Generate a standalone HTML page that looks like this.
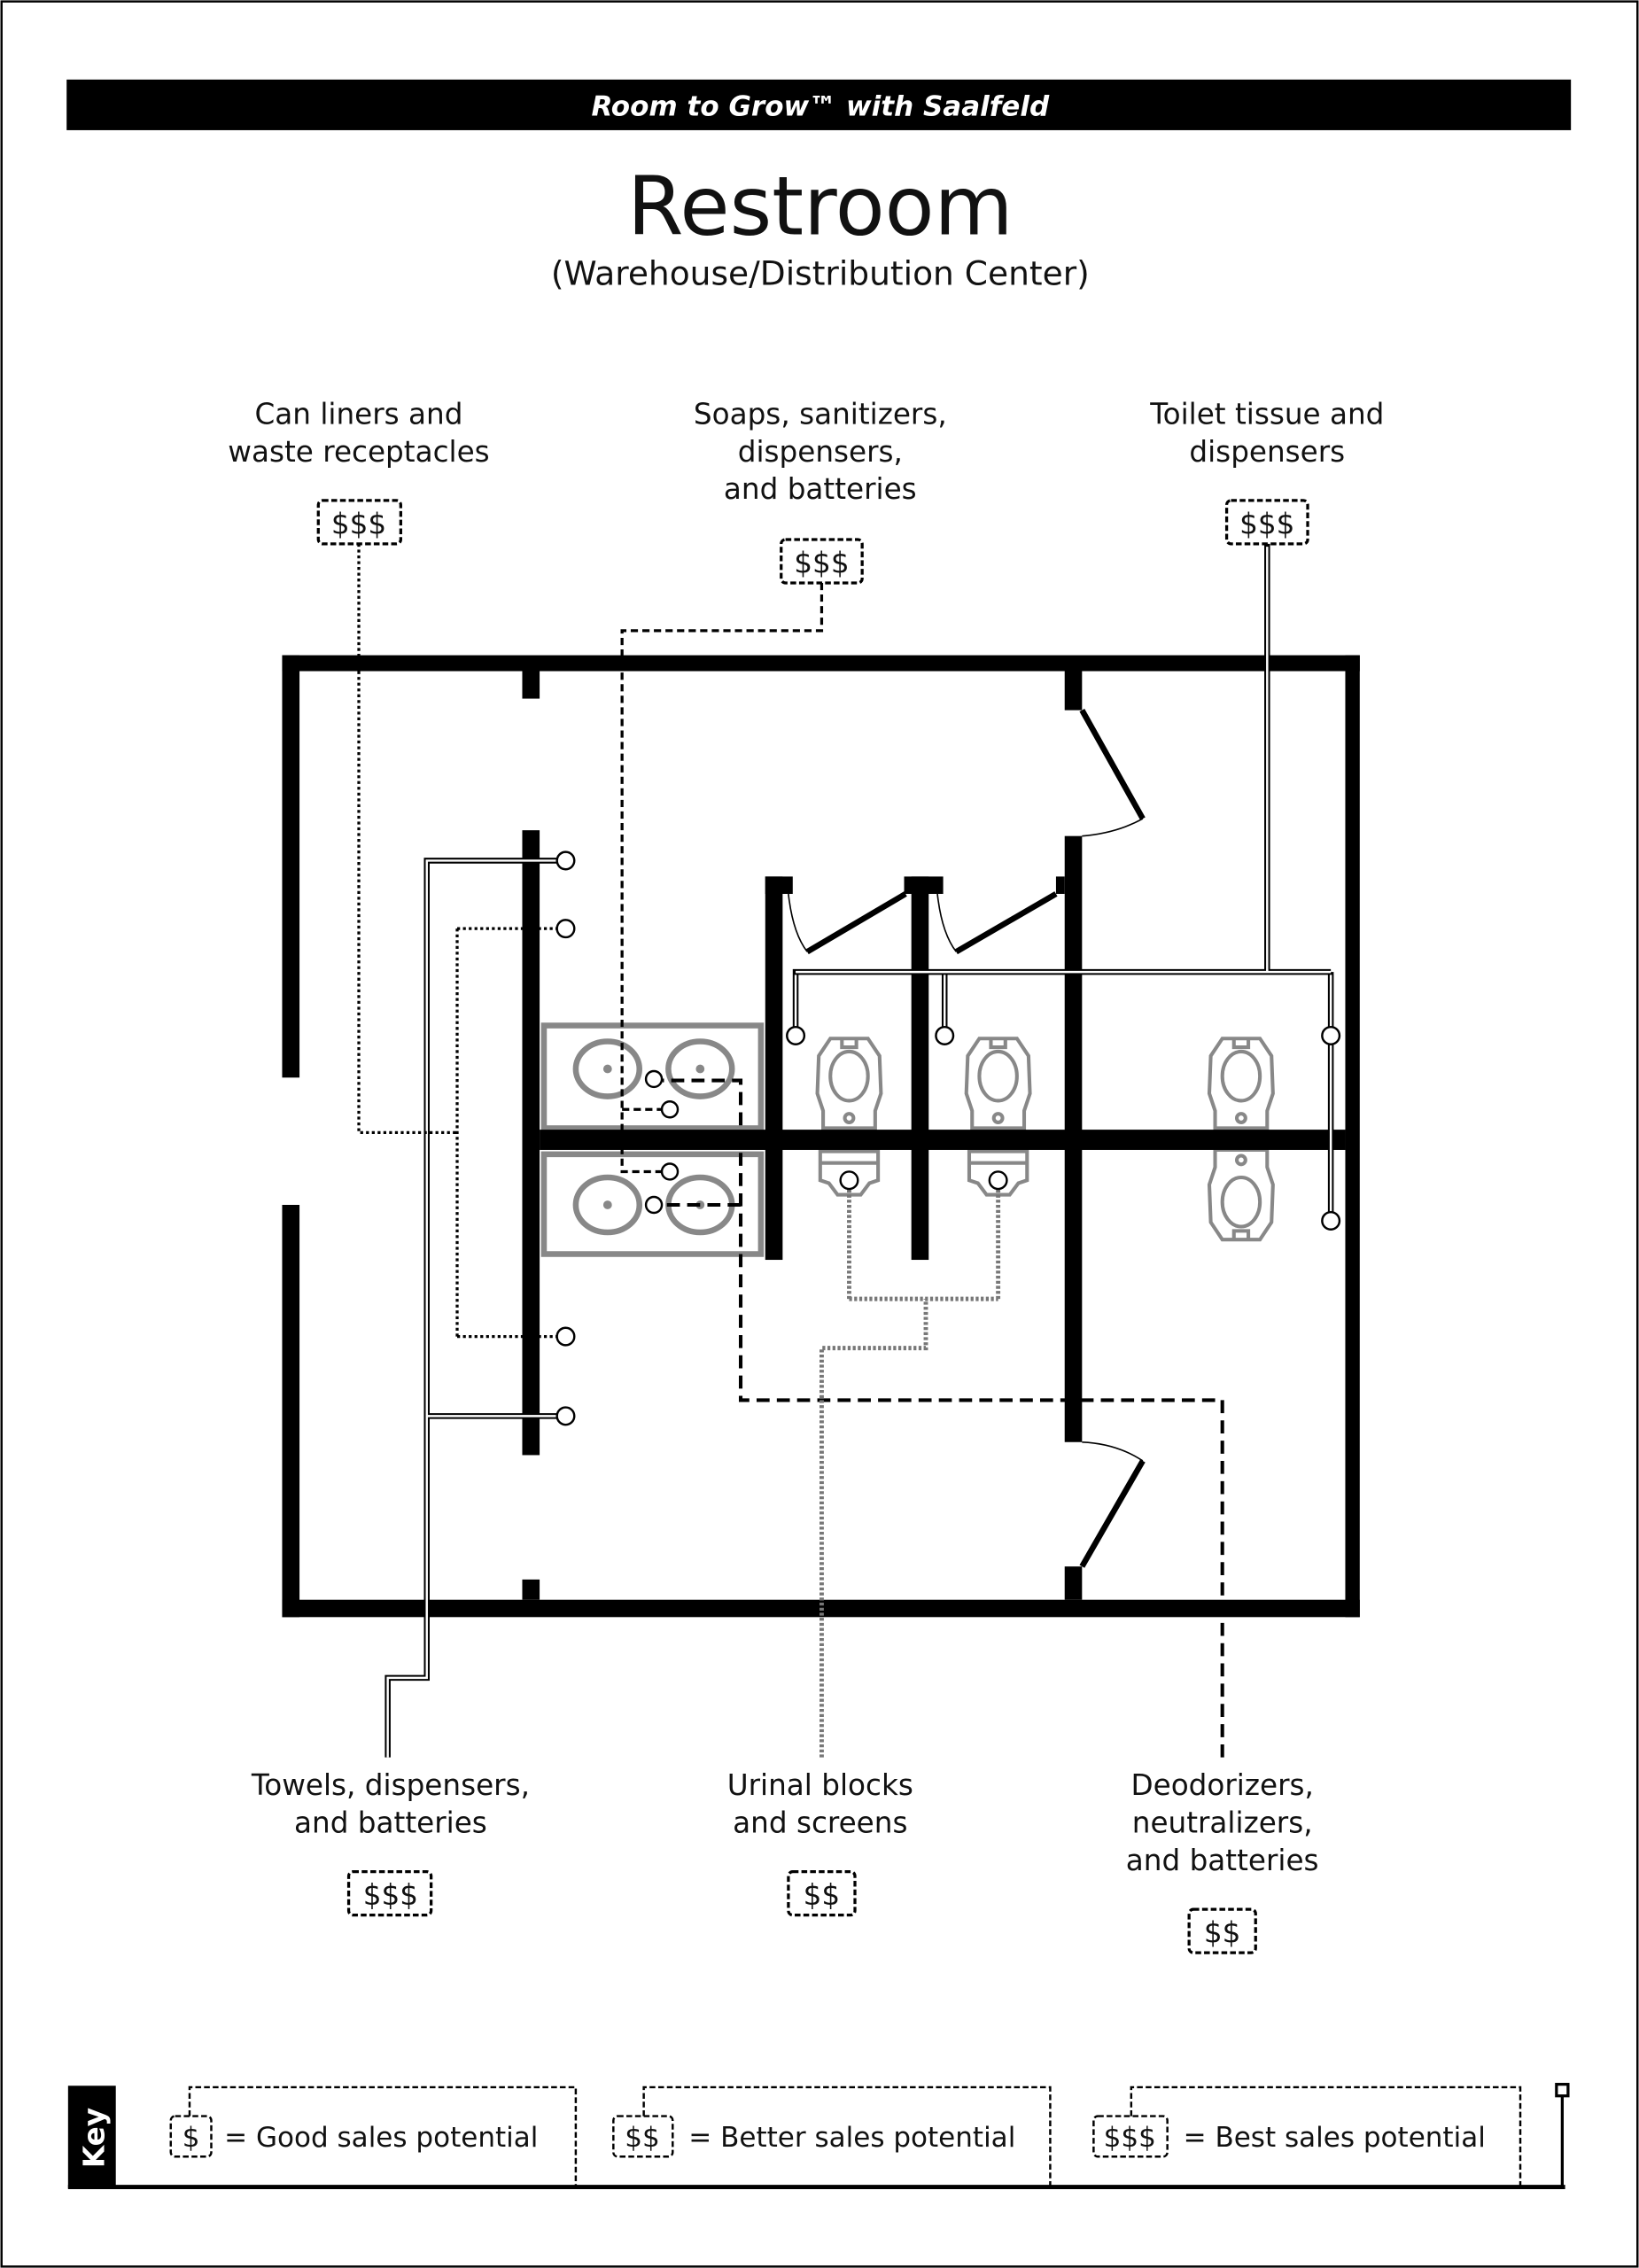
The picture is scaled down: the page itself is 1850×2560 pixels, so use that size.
<!DOCTYPE html>
<html><head><meta charset="utf-8"><style>html,body{margin:0;padding:0;background:#fff}svg{display:block}text{font-family:"DejaVu Sans","Liberation Sans",sans-serif;fill:#111}</style></head><body>
<svg width="1850" height="2560" viewBox="0 0 1133 1568" xmlns="http://www.w3.org/2000/svg">
<defs>
<g id="toilet" fill="none" stroke="#888" stroke-width="2.5">
<path d="M-13,-30 L13,-30 L21,-18 L22,8 L18,20 L18,32 L-18,32 L-18,20 L-22,8 L-21,-18 Z"/>
<ellipse cx="0" cy="-4" rx="13" ry="17"/>
<path d="M-5,-30 L-5,-24 L5,-24 L5,-30"/>
<circle cx="0" cy="25" r="3"/>
</g>
<g id="urinal" fill="none" stroke="#888" stroke-width="2.5">
<path d="M-20,0 L20,0 L20,20 L14,22 L8,30 L-8,30 L-14,22 L-20,20 Z"/>
<line x1="-20" y1="8" x2="20" y2="8"/>
</g>
<g id="sink" fill="none" stroke="#888">
<ellipse cx="0" cy="0" rx="22" ry="19" stroke-width="4"/>
<circle cx="0" cy="0" r="3" fill="#888" stroke="none"/>
</g>
</defs>
<rect x="1" y="1" width="1131" height="1566" fill="none" stroke="#000" stroke-width="1.5"/>
<rect x="46" y="55" width="1040" height="35" fill="#000"/>
<text x="567" y="80" text-anchor="middle" font-size="19" font-style="italic" font-weight="bold" style="fill:#fff">Room to Grow™ with Saalfeld</text>
<text x="567" y="162" text-anchor="middle" font-size="56">Restroom</text>
<text x="567" y="197" text-anchor="middle" font-size="23">(Warehouse/Distribution Center)</text>

<g font-size="20" text-anchor="middle">
<text x="248" y="293">Can liners and</text><text x="248" y="319">waste receptacles</text>
<text x="567" y="293">Soaps, sanitizers,</text><text x="567" y="319">dispensers,</text><text x="567" y="345">and batteries</text>
<text x="876" y="293">Toilet tissue and</text><text x="876" y="319">dispensers</text>
<text x="270" y="1241">Towels, dispensers,</text><text x="270" y="1267">and batteries</text>
<text x="567" y="1241">Urinal blocks</text><text x="567" y="1267">and screens</text>
<text x="845" y="1241">Deodorizers,</text><text x="845" y="1267">neutralizers,</text><text x="845" y="1293">and batteries</text>
</g>
<g fill="none" stroke="#000" stroke-width="2" stroke-dasharray="4,2">
<rect x="220" y="346" width="57" height="30" rx="3"/>
<rect x="540" y="373" width="56" height="30" rx="3"/>
<rect x="848" y="346" width="56" height="30" rx="3"/>
<rect x="241" y="1294" width="57" height="30" rx="3"/>
<rect x="545" y="1294" width="46" height="30" rx="3"/>
<rect x="822" y="1320" width="46" height="30" rx="3"/>
</g>
<g font-size="20" text-anchor="middle">
<text x="248" y="369">$$$</text><text x="568" y="396">$$$</text><text x="876" y="369">$$$</text>
<text x="270" y="1317">$$$</text><text x="568" y="1317">$$</text><text x="845" y="1343">$$</text>
</g>

<!-- sinks -->
<rect x="376" y="709" width="150" height="71" fill="none" stroke="#888" stroke-width="4"/>
<rect x="376" y="798" width="150" height="69" fill="none" stroke="#888" stroke-width="4"/>
<use href="#sink" x="420" y="739"/><use href="#sink" x="484" y="739"/>
<use href="#sink" x="420" y="833"/><use href="#sink" x="484" y="833"/>
<use href="#toilet" x="587" y="748"/><use href="#toilet" x="690" y="748"/><use href="#toilet" x="858" y="748"/>
<use href="#urinal" x="587" y="796"/><use href="#urinal" x="690" y="796"/>
<use href="#toilet" x="858" y="827" transform="rotate(180 858 827)"/>

<!-- walls -->
<g fill="#000">
<rect x="195" y="453" width="745" height="11"/>
<rect x="195" y="1106" width="745" height="12"/>
<rect x="195" y="453" width="12" height="292"/>
<rect x="195" y="833" width="12" height="285"/>
<rect x="930" y="453" width="10" height="665"/>
<rect x="361" y="463" width="12" height="20"/>
<rect x="361" y="1092" width="12" height="14"/>
<rect x="361" y="574" width="12" height="432"/>
<rect x="736" y="463" width="12" height="28"/>
<rect x="736" y="578" width="12" height="419"/>
<rect x="736" y="1083" width="12" height="23"/>
<rect x="373" y="781" width="557" height="14"/>
<rect x="529" y="606" width="12" height="265"/>
<rect x="529" y="606" width="19" height="12"/>
<rect x="630" y="606" width="12" height="265"/>
<rect x="625" y="606" width="27" height="12"/>
<rect x="730" y="606" width="6" height="12"/>
</g>
<g stroke="#000" fill="none">
<line x1="748" y1="491" x2="790" y2="566" stroke-width="4"/>
<path d="M790,566 Q772,576 748,578" stroke-width="1"/>
<line x1="748" y1="1083" x2="790" y2="1010" stroke-width="4"/>
<path d="M790,1010 Q772,998 748,997" stroke-width="1"/>
<line x1="558" y1="658" x2="626" y2="618" stroke-width="4"/>
<path d="M545,618 Q548,645 558,658" stroke-width="1"/>
<line x1="661" y1="658" x2="730" y2="618" stroke-width="4"/>
<path d="M648,618 Q651,645 661,658" stroke-width="1"/>
</g>

<!-- toilet tissue (double line) -->
<g fill="none">
<path d="M876,376 V672 M548,672 H920 M550,672 V710 M653,672 V710 M920,672 V838" stroke="#000" stroke-width="4"/>
<path d="M876,378 V672 M550,672 H920 M550,674 V710 M653,674 V710 M920,674 V838" stroke="#fff" stroke-width="1.5"/>
</g>
<!-- towels -->
<g fill="none">
<path d="M268,1215 V1160 H295 V595 H385 M295,979 H385" stroke="#000" stroke-width="4"/>
<path d="M268,1215 V1160 H295 V595 H385 M295,979 H385" stroke="#fff" stroke-width="1.5"/>
</g>
<!-- can liners dotted -->
<path d="M248,376 V783 H316 M316,642 V924 M316,642 H385 M316,924 H385" fill="none" stroke="#000" stroke-width="2" stroke-dasharray="2,2"/>
<!-- soaps dashed -->
<path d="M568,403 V436 H430 V810 H457 M430,767 H457" fill="none" stroke="#000" stroke-width="2" stroke-dasharray="5,3"/>
<!-- deodorizers -->
<path d="M845,1215 V968 H512 V747 H458 M512,833 H458" fill="none" stroke="#000" stroke-width="2.5" stroke-dasharray="9,5"/>
<!-- urinal chain -->
<path d="M568,1215 V932 H640 V898 M587,898 H690 M587,898 V822 M690,898 V822" fill="none" stroke="#777" stroke-width="3" stroke-dasharray="2,1.5"/>

<g fill="#fff" stroke="#000" stroke-width="1.5">
<circle cx="391" cy="595" r="6"/><circle cx="391" cy="642" r="6"/><circle cx="391" cy="924" r="6"/><circle cx="391" cy="979" r="6"/>
<circle cx="452" cy="746" r="5.5"/><circle cx="463" cy="767" r="5.5"/><circle cx="463" cy="810" r="5.5"/><circle cx="452" cy="833" r="5.5"/>
<circle cx="550" cy="716" r="6"/><circle cx="653" cy="716" r="6"/><circle cx="920" cy="716" r="6"/><circle cx="920" cy="844" r="6"/>
<circle cx="587" cy="816" r="6"/><circle cx="690" cy="816" r="6"/>
</g>

<!-- key -->
<rect x="47" y="1442" width="33" height="71" fill="#000"/>
<text transform="translate(72,1478) rotate(-90)" text-anchor="middle" font-size="20" font-weight="bold" style="fill:#fff">Key</text>
<line x1="47" y1="1512" x2="1082" y2="1512" stroke="#000" stroke-width="3"/>
<line x1="1080" y1="1449" x2="1080" y2="1512" stroke="#000" stroke-width="2"/>
<rect x="1076" y="1441" width="8" height="8" fill="#fff" stroke="#000" stroke-width="2"/>
<g fill="none" stroke="#000" stroke-width="1.5" stroke-dasharray="4,2">
<path d="M131,1463 V1443 H398 V1512"/>
<path d="M445,1463 V1443 H726 V1512"/>
<path d="M782,1463 V1443 H1051 V1512"/>
<rect x="118" y="1463" width="28" height="28" rx="3"/>
<rect x="424" y="1463" width="41" height="28" rx="3"/>
<rect x="756" y="1463" width="51" height="28" rx="3"/>
</g>
<g font-size="19">
<text x="132" y="1484" text-anchor="middle">$</text><text x="155" y="1484">= Good sales potential</text>
<text x="444" y="1484" text-anchor="middle">$$</text><text x="476" y="1484">= Better sales potential</text>
<text x="781" y="1484" text-anchor="middle">$$$</text><text x="818" y="1484">= Best sales potential</text>
</g>
</svg>
</body></html>
